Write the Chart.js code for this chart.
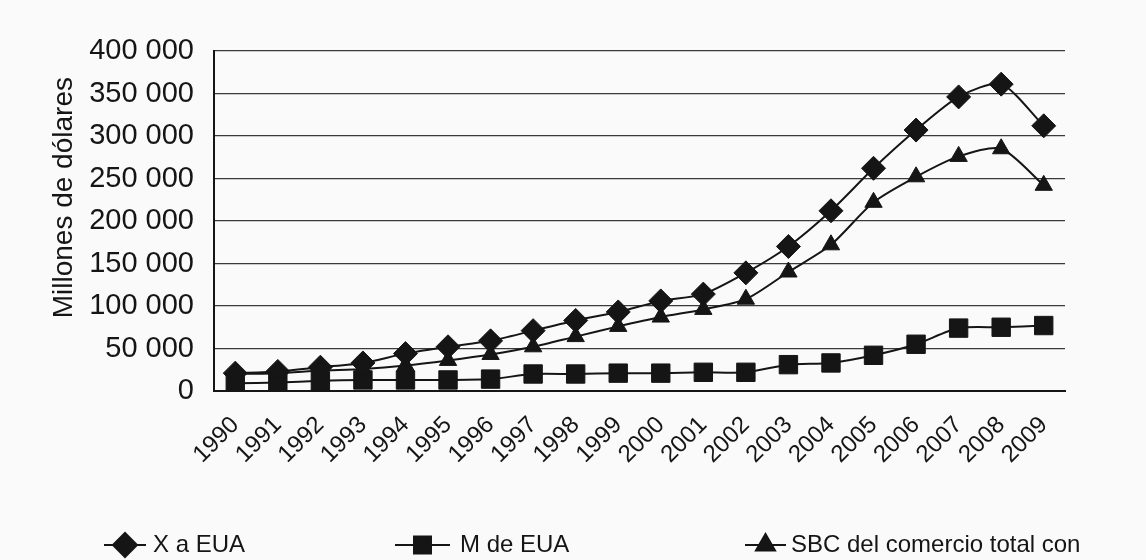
<!DOCTYPE html>
<html>
<head>
<meta charset="utf-8">
<script src="https://cdn.jsdelivr.net/npm/chart.js@4.4.0/dist/chart.umd.min.js"></script>
<style>
  body { margin: 0; background: #fafafa; }
  #wrap { width: 1146px; height: 560px; }
</style>
</head>
<body>
<div id="wrap"><canvas id="graph"></canvas></div>
<script>
const years = ['1990','1991','1992','1993','1994','1995','1996','1997','1998','1999',
               '2000','2001','2002','2003','2004','2005','2006','2007','2008','2009'];
// millones de dólares
const xEua   = [21000, 23000, 28000, 33000, 44000, 52000, 59000, 71000, 83000, 93000,
                106000, 114000, 139000, 170000, 212000, 262000, 307000, 346000, 361000, 312000];
const mEua   = [9000, 10000, 12000, 13000, 13000, 13000, 14000, 20000, 20000, 21000,
                21000, 22000, 22000, 31000, 33000, 42000, 55000, 74000, 75000, 77000];
const sbc    = [20000, 21000, 24000, 26000, 30000, 36000, 43000, 52000, 64000, 76000,
                87000, 96000, 108000, 140000, 172000, 222000, 252000, 276000, 285000, 242000];
const seriesNames = ['X a EUA', 'M de EUA', 'SBC del comercio total con'];

const ink = '#151515';
const font = "'Liberation Sans', Arial, sans-serif";

function fmt(v) {
    return String(v).replace(/\B(?=(\d{3})+(?!\d))/g, ' ');
}

// legend drawn by hand: line with marker in the middle, then text
const legendItems = [
    { name: seriesNames[0], style: 'rectRot', radius: 12, x0: 104, x1: 146, tx: 153 },
    { name: seriesNames[1], style: 'rect', radius: 12, x0: 395, x1: 450, tx: 460 },
    { name: seriesNames[2], style: 'triangle', radius: 11, x0: 745, x1: 786, tx: 791 },
];
const legendY = 545;

const bottomLegend = {
    id: 'bottomLegend',
    afterDraw(chart) {
        const ctx = chart.ctx;
        ctx.save();
        legendItems.forEach(it => {
            ctx.strokeStyle = ink;
            ctx.lineWidth = 2;
            ctx.beginPath();
            ctx.moveTo(it.x0, legendY);
            ctx.lineTo(it.x1, legendY);
            ctx.stroke();
            ctx.fillStyle = ink;
            Chart.helpers.drawPoint(ctx, {
                pointStyle: it.style, radius: it.radius, borderWidth: 1, rotation: 0
            }, (it.x0 + it.x1) / 2, legendY);
            ctx.fill();
            ctx.fillStyle = ink;
            ctx.font = '24px ' + font;
            ctx.textBaseline = 'middle';
            ctx.textAlign = 'left';
            ctx.fillText(it.name, it.tx, legendY);
        });
        ctx.restore();
    }
};

function line(label, data, style, radius, order) {
    return {
        label: label,
        data: data,
        borderColor: ink,
        backgroundColor: ink,
        borderWidth: 2,
        pointStyle: style,
        pointRadius: radius,
        pointHoverRadius: radius,
        pointBackgroundColor: ink,
        pointBorderColor: ink,
        pointBorderWidth: 1,
        tension: 0.25,
        order: order
    };
}

const graph = document.getElementById('graph').getContext('2d');
new Chart(graph, {
    type: 'line',
    data: {
        labels: years,
        datasets: [
            line(seriesNames[0], xEua, 'rectRot', 12, 3),
            line(seriesNames[1], mEua, 'rect', 13, 2),
            line(seriesNames[2], sbc, 'triangle', 10, 1),
        ]
    },
    options: {
        responsive: true,
        maintainAspectRatio: false,
        animation: false,
        layout: { padding: { left: 0, right: 81, top: 51, bottom: 79 } },
        plugins: {
            legend: { display: false },
            tooltip: { enabled: false }
        },
        scales: {
            x: {
                offset: true,
                grid: { display: false },
                border: { display: true, color: ink, width: 2 },
                ticks: {
                    color: ink,
                    font: { family: font, size: 24 },
                    maxRotation: 45,
                    minRotation: 45,
                    autoSkip: false,
                    padding: 12
                },
                afterFit(scale) { scale.height = 90; }
            },
            y: {
                min: 0,
                max: 400000,
                grid: { color: '#3a3a3a', lineWidth: 1.3, drawTicks: false },
                border: { display: true, color: ink, width: 2 },
                ticks: {
                    stepSize: 50000,
                    color: ink,
                    font: { family: font, size: 29 },
                    padding: 20,
                    callback: v => fmt(v)
                },
                title: {
                    display: true,
                    // leading spaces lift the centred title a little, as in the original
                    text: '\u00a0\u00a0\u00a0\u00a0\u00a0\u00a0Millones de dólares',
                    color: ink,
                    font: { family: font, size: 28 },
                    padding: { top: 47, bottom: 0 }
                },
                afterFit(scale) { scale.width = 214; }
            }
        }
    },
    plugins: [bottomLegend]
});
</script>
</body>
</html>
